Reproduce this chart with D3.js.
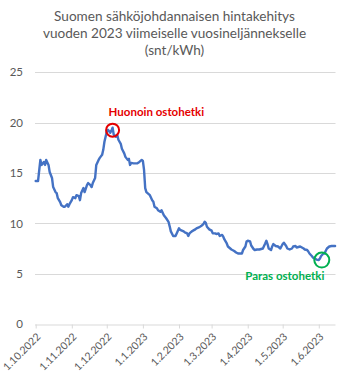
<!DOCTYPE html>
<html>
<head>
<meta charset="utf-8">
<script src="https://cdn.jsdelivr.net/npm/d3@7"></script>
<style>
  html, body { margin: 0; padding: 0; background: #fff; }
  svg { display: block; font-family: Lato, "Open Sans", sans-serif; }
</style>
</head>
<body>
<svg id="chart" width="341" height="373"></svg>
<script>
// Title lines
const titleLines = [
  "Suomen sähköjohdannaisen hintakehitys",
  "vuoden 2023 viimeiselle vuosineljännekselle",
  "(snt/kWh)"
];

// Observation dates, counted in days from 1.10.2022
const startDate = Date.UTC(2022, 9, 1);
const dayOffsets = [
  0, 2, 4, 5, 7, 8, 9, 11, 12, 14, 15, 17, 18, 19, 21, 22, 24, 25, 27, 28,
  29, 31, 32, 34, 35, 37, 38, 39, 41, 42, 44, 45, 47, 48, 49, 51, 52, 54, 55, 57,
  58, 59, 61, 62, 64, 65, 66, 67, 69, 70, 71, 73, 74, 76, 77, 79, 80, 81, 82, 84,
  87, 89, 91, 92, 93, 94, 95, 98, 100, 101, 102, 104, 105, 107, 108, 110, 111, 112, 114, 115,
  116, 118, 119, 120, 121, 123, 124, 125, 127, 128, 130, 131, 132, 134, 135, 137, 138, 140, 141, 142,
  144, 145, 146, 147, 149, 151, 152, 154, 155, 157, 158, 160, 161, 162, 164, 165, 167, 168, 170, 171,
  172, 174, 175, 177, 178, 180, 181, 182, 184, 185, 187, 188, 190, 192, 195, 197, 198, 199, 200, 202,
  203, 204, 206, 208, 210, 212, 213, 215, 216, 218, 220, 221, 223, 224, 227, 230, 231, 233, 234, 235,
  237, 238, 240, 241, 243, 244, 245, 247, 248, 249, 250, 252, 254, 257
];

// Price, snt/kWh
const prices = [
  14.2, 14.2, 16.3, 15.8, 16.1, 15.8, 16.3, 15.8, 15.1, 14.5, 13.6, 13.1, 13.0, 12.5, 12.1, 11.8, 11.65, 11.65, 11.9, 11.65,
  11.9, 12.3, 12.6, 12.5, 12.8, 12.7, 12.3, 13.0, 13.5, 13.1, 13.8, 14.0, 13.8, 13.6, 14.0, 14.5, 15.8, 16.3, 16.5, 16.8,
  17.3, 18.1, 19.1, 19.3, 19.0, 19.2, 19.5, 18.8, 18.6, 18.8, 18.3, 17.9, 17.4, 16.95, 16.6, 16.3, 16.4, 15.8, 16.0, 15.95,
  15.95, 16.1, 16.3, 16.2, 15.3, 13.5, 13.1, 12.8, 12.3, 12.15, 11.65, 11.5, 11.3, 11.15, 11.3, 10.8, 10.65, 10.5, 10.15, 9.7,
  9.2, 8.74, 8.74, 8.74, 9.0, 9.5, 9.35, 9.3, 9.2, 9.1, 9.0, 8.74, 9.0, 9.2, 9.27, 9.4, 9.5, 9.6, 9.66, 9.73,
  9.93, 10.16, 10.05, 9.66, 9.4, 9.27, 9.0, 9.0, 8.94, 9.0, 8.74, 8.85, 8.67, 8.4, 8.0, 7.7, 7.5, 7.4, 7.28, 7.2,
  7.1, 7.0, 7.0, 7.0, 7.35, 7.7, 8.2, 8.27, 8.2, 7.8, 7.45, 7.35, 7.4, 7.4, 7.5, 8.0, 8.27, 7.94, 7.5, 7.35,
  7.7, 7.94, 7.75, 7.7, 7.5, 7.94, 8.07, 7.75, 7.5, 7.4, 7.5, 7.7, 7.75, 7.6, 7.7, 7.5, 7.4, 7.35, 7.2, 7.0,
  6.75, 6.6, 6.5, 6.4, 6.35, 6.5, 6.75, 7.0, 7.0, 7.27, 7.5, 7.7, 7.75, 7.75
];

// Y axis ticks and x axis month ticks
const yTicks = [0, 5, 10, 15, 20, 25];
const monthTicks = [
  "2022-10-01", "2022-11-01", "2022-12-01", "2023-01-01", "2023-02-01",
  "2023-03-01", "2023-04-01", "2023-05-01", "2023-06-01"
];

// Annotations
const highLabel = "Huonoin ostohetki";
const lowLabel = "Paras ostohetki";

const data = dayOffsets.map((d, i) => ({
  date: new Date(startDate + d * 864e5),
  value: prices[i]
}));

const svg = d3.select("#chart");
const textGray = "#595959";
const gridGray = "#d9d9d9";

const x = d3.scaleUtc()
  .domain([new Date(Date.UTC(2022, 9, 1)), new Date(Date.UTC(2023, 5, 15))])
  .range([35.7, 335.1]);

const y = d3.scaleLinear()
  .domain([0, 25])
  .range([324, 72.3]);

// Title
svg.append("g")
  .selectAll("text")
  .data(titleLines)
  .join("text")
  .attr("x", 174.5)
  .attr("y", (d, i) => 20.5 + i * 17.3)
  .attr("text-anchor", "middle")
  .attr("fill", textGray)
  .attr("font-size", 13.6)
  .text(d => d);

// Horizontal gridlines
svg.append("g")
  .selectAll("line")
  .data(yTicks.filter(t => t > 0))
  .join("line")
  .attr("x1", 35)
  .attr("x2", 335.5)
  .attr("y1", d => Math.round(y(d)) + 0.5)
  .attr("y2", d => Math.round(y(d)) + 0.5)
  .attr("stroke", gridGray)
  .attr("stroke-width", 1);

// Y axis labels
const yAxis = d3.axisLeft(y).tickValues(yTicks).tickSize(0).tickPadding(0);
svg.append("g")
  .attr("transform", "translate(23,0)")
  .call(yAxis)
  .call(g => g.select(".domain").remove())
  .call(g => g.selectAll("text")
    .attr("fill", textGray)
    .attr("font-size", 11.5)
    .attr("font-family", "Lato, sans-serif"));

// X axis with month ticks and rotated date labels
const parseDay = d3.utcParse("%Y-%m-%d");
const fmt = d3.utcFormat("%-d.%-m.%Y");
const xAxis = d3.axisBottom(x)
  .tickValues(monthTicks.map(parseDay))
  .tickSize(4)
  .tickFormat(fmt);

svg.append("g")
  .attr("transform", "translate(0,324.5)")
  .call(xAxis)
  .call(g => g.select(".domain")
    .attr("d", `M35,0.5H335.5`)
    .attr("stroke", gridGray))
  .call(g => g.selectAll(".tick line").attr("stroke", gridGray))
  .call(g => g.selectAll(".tick text")
    .attr("fill", textGray)
    .attr("font-size", 10.5)
    .attr("font-family", "Lato, sans-serif")
    .attr("text-anchor", "end")
    .attr("dy", null)
    .attr("y", 0)
    .attr("transform", "translate(5,13) rotate(-45)"));

// Price line
const line = d3.line()
  .x(d => x(d.date))
  .y(d => y(d.value));

svg.append("path")
  .datum(data)
  .attr("d", line)
  .attr("fill", "none")
  .attr("stroke", "#4472c4")
  .attr("stroke-width", 2.4)
  .attr("stroke-linejoin", "round")
  .attr("stroke-linecap", "round");

// Highest and lowest points
const hi = data.reduce((a, b) => (b.value > a.value ? b : a));
const lo = data.reduce((a, b) => (b.value < a.value ? b : a));

const red = "#e50000";
const green = "#00b050";

svg.append("circle")
  .attr("cx", x(hi.date))
  .attr("cy", y(hi.value) + 2.5)
  .attr("r", 6.5)
  .attr("fill", "none")
  .attr("stroke", red)
  .attr("stroke-width", 2);

svg.append("text")
  .attr("x", x(hi.date) - 4)
  .attr("y", y(hi.value) - 11.6)
  .attr("fill", red)
  .attr("font-weight", "bold")
  .attr("font-size", 11.5)
  .text(highLabel);

svg.append("circle")
  .attr("cx", x(lo.date) + 3)
  .attr("cy", y(lo.value))
  .attr("r", 7.5)
  .attr("fill", "none")
  .attr("stroke", green)
  .attr("stroke-width", 2);

svg.append("text")
  .attr("x", x(lo.date) - 34)
  .attr("y", y(lo.value) + 20)
  .attr("text-anchor", "middle")
  .attr("fill", green)
  .attr("font-weight", "bold")
  .attr("font-size", 11.5)
  .text(lowLabel);
</script>
</body>
</html>
